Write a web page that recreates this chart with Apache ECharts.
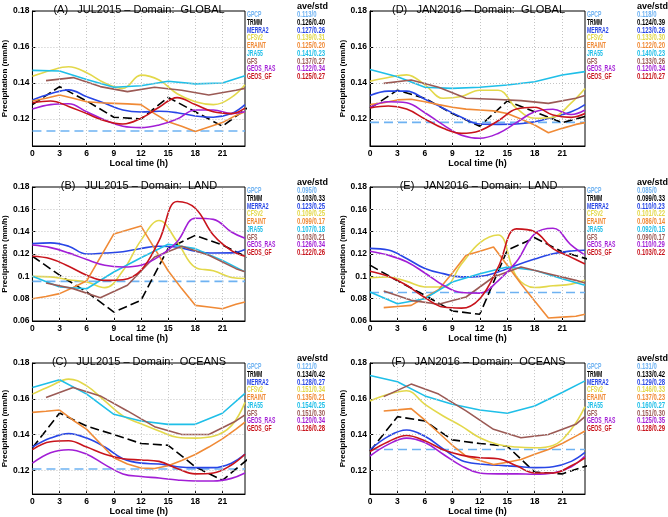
<!DOCTYPE html>
<html>
<head>
<meta charset="utf-8">
<script src="https://cdn.jsdelivr.net/npm/echarts@6/dist/echarts.min.js"></script>
<style>
html, body { margin: 0; padding: 0; background: #fff; }
#main { width: 668px; height: 517px; }
</style>
</head>
<body>
<div id="main"></div>
<script>
// panels: A B C (JUL2015) and D E F (JAN2016)
const panelTitles = [
  '(A)   JUL2015 \u2013 Domain:  GLOBAL',
  '(B)   JUL2015 \u2013 Domain:  LAND',
  '(C)   JUL2015 \u2013 Domain:  OCEANS',
  '(D)   JAN2016 \u2013 Domain:  GLOBAL',
  '(E)   JAN2016 \u2013 Domain:  LAND',
  '(F)   JAN2016 \u2013 Domain:  OCEANS'
];
const names = ['GPCP', 'TRMM', 'MERRA2', 'CFSv2', 'ERAINT', 'JRA55', 'GFS', 'GEOS_RAS', 'GEOS_GF'];

const xTicks = [0, 3, 6, 9, 12, 15, 18, 21];
const yTicks = [
  [0.12, 0.14, 0.16, 0.18],
  [0.06, 0.08, 0.1, 0.12, 0.14, 0.16, 0.18],
  [0.12, 0.14, 0.16, 0.18],
  [0.12, 0.14, 0.16, 0.18],
  [0.06, 0.08, 0.1, 0.12, 0.14, 0.16, 0.18],
  [0.12, 0.14, 0.16, 0.18]
];
const yMin = [0.105, 0.06, 0.1067, 0.105, 0.06, 0.1067];
const yMax = 0.18;

// local-time sample hours of each product
const hrsSmooth = [0, 2, 4, 6, 8, 10, 12, 14, 16, 18, 20, 22, 23.5];
const hrsTrmm = [0, 3, 6, 9, 12, 15, 18, 21, 24];
const hrsJra = [0, 3, 6, 9, 12, 15, 18, 21, 23.5];
const hrsGfs = [1.5, 4.5, 7.5, 10.5, 13.5, 16.5, 19.5, 22.5, 23.5];
const hrsEra = [0, 1.5, 3, 4.5, 6, 7.5, 9, 10.5, 12, 13.5, 15, 16.5, 18, 19.5, 21, 22.5, 23.5];

// values per panel (A..F), mm/h
const gpcp = [0.1133, 0.0955, 0.1207, 0.1181, 0.0855, 0.1316];
const trmm = [
  [0.128, 0.138, 0.130, 0.121, 0.120, 0.132, 0.124, 0.116, 0.127],
  [0.118, 0.101, 0.086, 0.068, 0.0785, 0.125, 0.1367, 0.128, 0.116],
  [0.1326, 0.152, 0.1447, 0.140, 0.135, 0.134, 0.122, 0.1144, 0.127],
  [0.126, 0.136, 0.1315, 0.123, 0.116, 0.130, 0.124, 0.118, 0.122],
  [0.110, 0.096, 0.083, 0.069, 0.066, 0.1233, 0.1346, 0.122, 0.115],
  [0.1307, 0.150, 0.1476, 0.137, 0.135, 0.1335, 0.119, 0.118, 0.123]
];
const merra2 = [
  [0.1306, 0.134, 0.1362, 0.1324, 0.1287, 0.125, 0.1239, 0.1243, 0.1235, 0.1217, 0.121, 0.123, 0.128],
  [0.1293, 0.130, 0.127, 0.120, 0.1209, 0.122, 0.125, 0.1269, 0.126, 0.1225, 0.1209, 0.121, 0.124],
  [0.133, 0.138, 0.1405, 0.138, 0.133, 0.1265, 0.124, 0.1235, 0.122, 0.1215, 0.1215, 0.124, 0.129],
  [0.133, 0.1355, 0.1355, 0.131, 0.126, 0.121, 0.1172, 0.117, 0.1172, 0.1185, 0.121, 0.124, 0.128],
  [0.125, 0.1235, 0.116, 0.107, 0.1024, 0.0995, 0.100, 0.1039, 0.110, 0.1155, 0.1203, 0.1227, 0.1233],
  [0.1315, 0.139, 0.1425, 0.139, 0.132, 0.1255, 0.1235, 0.1228, 0.1222, 0.1215, 0.122, 0.125, 0.130]
];
const cfsv2 = [
  [0.1437, 0.147, 0.149, 0.1457, 0.140, 0.137, 0.1444, 0.1417, 0.134, 0.1296, 0.128, 0.132, 0.139],
  [0.100, 0.0995, 0.097, 0.0949, 0.0899, 0.105, 0.1322, 0.150, 0.131, 0.108, 0.105, 0.099, 0.098],
  [0.1626, 0.1672, 0.171, 0.1672, 0.1588, 0.1504, 0.146, 0.142, 0.1385, 0.138, 0.139, 0.145, 0.158],
  [0.141, 0.1431, 0.1445, 0.139, 0.1315, 0.1325, 0.136, 0.136, 0.126, 0.1204, 0.121, 0.129, 0.137],
  [0.0988, 0.0994, 0.0955, 0.0905, 0.0904, 0.111, 0.130, 0.137, 0.100, 0.090, 0.0915, 0.093, 0.0964],
  [0.1588, 0.1625, 0.1645, 0.1569, 0.1504, 0.1447, 0.1382, 0.1344, 0.133, 0.1326, 0.1339, 0.143, 0.1556]
];
const eraint = [
  [0.130, 0.1315, 0.1333, 0.1315, 0.1296, 0.129, 0.1287, 0.1284, 0.128, 0.123, 0.1185, 0.116, 0.113, 0.1155, 0.118, 0.122, 0.124],
  [0.080, 0.082, 0.0845, 0.090, 0.096, 0.117, 0.138, 0.1415, 0.145, 0.125, 0.105, 0.089, 0.074, 0.0725, 0.071, 0.075, 0.077],
  [0.1524, 0.153, 0.1537, 0.148, 0.1429, 0.135, 0.127, 0.1235, 0.1213, 0.121, 0.1226, 0.1255, 0.1288, 0.133, 0.1376, 0.143, 0.147],
  [0.128, 0.129, 0.1306, 0.131, 0.1296, 0.128, 0.1265, 0.1255, 0.125, 0.1245, 0.1231, 0.120, 0.1167, 0.1124, 0.1148, 0.117, 0.118],
  [null, 0.072, 0.073, 0.074, 0.081, 0.088, 0.103, 0.1188, 0.1225, 0.1263, 0.110, 0.0934, 0.078, 0.0627, 0.0635, 0.0642, 0.066],
  [null, 0.1532, 0.1538, 0.1545, 0.148, 0.141, 0.134, 0.1279, 0.1255, 0.1232, 0.1245, 0.126, 0.129, 0.1316, 0.135, 0.1391, 0.142]
];
const jra55 = [
  [0.147, 0.1467, 0.142, 0.1376, 0.1385, 0.141, 0.1395, 0.140, 0.144],
  [0.100, 0.0904, 0.0889, 0.1039, 0.1167, 0.1287, 0.1248, 0.1143, 0.104],
  [0.1663, 0.1706, 0.1626, 0.1513, 0.1476, 0.1457, 0.1457, 0.1519, 0.163],
  [0.1475, 0.1435, 0.1376, 0.137, 0.1376, 0.1389, 0.1407, 0.1444, 0.1463],
  [0.086, 0.0755, 0.080, 0.0949, 0.1024, 0.1084, 0.1054, 0.0979, 0.092],
  [0.173, 0.1695, 0.1616, 0.1569, 0.1537, 0.1519, 0.156, 0.1635, 0.170]
];
const gfs = [
  [0.1413, 0.143, 0.138, 0.1352, 0.1376, 0.136, 0.1333, 0.136, 0.137],
  [0.094, 0.089, 0.0809, 0.092, 0.1173, 0.1269, 0.1188, 0.1069, 0.104],
  [0.1607, 0.1663, 0.1616, 0.1532, 0.1444, 0.140, 0.140, 0.1476, 0.151],
  [0.1398, 0.1417, 0.1376, 0.1315, 0.131, 0.1302, 0.1287, 0.1315, 0.133],
  [0.0869, 0.0785, 0.075, 0.0815, 0.0994, 0.1084, 0.1024, 0.0964, 0.094],
  [0.1612, 0.1682, 0.1626, 0.1532, 0.1429, 0.1382, 0.140, 0.1457, 0.150]
];
const geosRas = [
  [0.1255, 0.128, 0.1285, 0.124, 0.1194, 0.116, 0.1152, 0.1167, 0.120, 0.125, 0.125, 0.123, 0.124],
  [0.128, 0.1257, 0.121, 0.115, 0.1099, 0.1084, 0.110, 0.1179, 0.131, 0.152, 0.151, 0.1397, 0.134],
  [0.124, 0.1298, 0.1315, 0.129, 0.1232, 0.118, 0.1165, 0.1157, 0.1146, 0.114, 0.114, 0.1155, 0.1185],
  [0.1265, 0.1296, 0.129, 0.1235, 0.1167, 0.111, 0.1093, 0.112, 0.118, 0.124, 0.1254, 0.1225, 0.125],
  [0.1225, 0.119, 0.113, 0.103, 0.092, 0.0855, 0.085, 0.096, 0.113, 0.138, 0.143, 0.128, 0.119],
  [0.128, 0.1345, 0.138, 0.1355, 0.129, 0.1225, 0.1185, 0.118, 0.118, 0.1178, 0.1185, 0.122, 0.128]
];
const geosGf = [
  [0.129, 0.130, 0.127, 0.123, 0.119, 0.1172, 0.1204, 0.1265, 0.1319, 0.128, 0.124, 0.123, 0.126],
  [0.118, 0.1158, 0.109, 0.101, 0.0964, 0.097, 0.1054, 0.132, 0.167, 0.161, 0.137, 0.123, 0.118],
  [0.1316, 0.136, 0.1365, 0.133, 0.129, 0.1265, 0.1258, 0.125, 0.121, 0.118, 0.1185, 0.123, 0.129],
  [0.1262, 0.1272, 0.1255, 0.120, 0.1148, 0.112, 0.1135, 0.119, 0.1255, 0.1265, 0.1222, 0.1209, 0.123],
  [0.1045, 0.100, 0.092, 0.081, 0.0725, 0.0715, 0.080, 0.108, 0.1425, 0.140, 0.1248, 0.117, 0.111],
  [0.1305, 0.136, 0.1395, 0.1365, 0.1315, 0.1285, 0.127, 0.1265, 0.1225, 0.1185, 0.1185, 0.1225, 0.127]
];

// ave/std labels, order of names
const stats = [
  ['0.113/0', '0.126/0.40', '0.127/0.26', '0.139/0.31', '0.125/0.20', '0.141/0.23', '0.137/0.27', '0.122/0.34', '0.125/0.27'],
  ['0.095/0', '0.103/0.33', '0.123/0.25', '0.109/0.25', '0.099/0.17', '0.107/0.18', '0.103/0.21', '0.126/0.34', '0.122/0.26'],
  ['0.121/0', '0.134/0.42', '0.128/0.27', '0.151/0.34', '0.135/0.21', '0.154/0.25', '0.151/0.30', '0.120/0.34', '0.126/0.28'],
  ['0.118/0', '0.124/0.39', '0.123/0.26', '0.133/0.30', '0.122/0.20', '0.140/0.23', '0.133/0.26', '0.120/0.34', '0.121/0.27'],
  ['0.085/0', '0.099/0.33', '0.110/0.23', '0.101/0.22', '0.086/0.14', '0.092/0.15', '0.090/0.17', '0.110/0.29', '0.103/0.22'],
  ['0.131/0', '0.133/0.42', '0.129/0.28', '0.146/0.33', '0.137/0.23', '0.160/0.27', '0.151/0.30', '0.125/0.35', '0.128/0.29']
];

const colors = {
  GPCP: '#6eb2f2', TRMM: '#000000', MERRA2: '#2846e6', CFSv2: '#e3d84a', ERAINT: '#f08a36',
  JRA55: '#1fbfe8', GFS: '#9b5a55', GEOS_RAS: '#a21ed6', GEOS_GF: '#c8141c'
};

const boxes = [
  { left: 31, top: 11, width: 214, height: 135 },
  { left: 31, top: 187, width: 214, height: 134 },
  { left: 31, top: 363, width: 214, height: 132 },
  { left: 370, top: 11, width: 215, height: 135 },
  { left: 370, top: 187, width: 215, height: 134 },
  { left: 370, top: 363, width: 215, height: 132 }
];

const sans = "'Liberation Sans', Arial, sans-serif";

function pairs(hours, vals) {
  const out = [];
  hours.forEach((h, i) => { if (vals[i] != null) out.push([h, vals[i]]); });
  return out;
}

const grids = [], xAxes = [], yAxes = [], series = [], titles = [], texts = [];

boxes.forEach((b, p) => {
  grids.push({ left: b.left, top: b.top, width: b.width, height: b.height,
    show: true, borderColor: '#000', borderWidth: 1, backgroundColor: 'transparent' });
  xAxes.push({
    type: 'value', gridIndex: p, min: 0, max: 23.5,
    name: 'Local time (h)', nameLocation: 'middle', nameGap: 12,
    nameTextStyle: { fontSize: 9, color: '#000', fontFamily: sans, fontWeight: 'bold' },
    axisLine: { lineStyle: { color: '#000' } },
    axisTick: { inside: true, length: 3, customValues: xTicks, lineStyle: { color: '#000' } },
    axisLabel: { customValues: xTicks, fontSize: 8.5, margin: 3, color: '#000', fontFamily: sans, fontWeight: 'bold' },
    splitLine: { show: false }
  });
  yAxes.push({
    type: 'value', gridIndex: p, min: yMin[p], max: yMax,
    name: 'Precipitation (mm/h)', nameLocation: 'middle', nameGap: 21, nameRotate: 90,
    nameTextStyle: { fontSize: 8, color: '#000', fontFamily: sans, fontWeight: 'bold' },
    axisLine: { lineStyle: { color: '#000' } },
    axisTick: { inside: true, length: 3, customValues: yTicks[p], lineStyle: { color: '#000' } },
    axisLabel: { customValues: yTicks[p], fontSize: 8.5, margin: 3, color: '#000', fontFamily: sans, fontWeight: 'bold',
      formatter: v => String(+v.toFixed(2)) },
    splitLine: { show: false }
  });

  const grid = [];
  xTicks.slice(1).forEach(v => grid.push({ xAxis: v }));
  yTicks[p].filter(v => v > yMin[p] && v < yMax).forEach(v => grid.push({ yAxis: v }));

  const base = { type: 'line', xAxisIndex: p, yAxisIndex: p, showSymbol: false, symbol: 'none',
    animation: false, silent: true, clip: true };

  series.push(Object.assign({}, base, {
    name: 'GPCP', data: [[0, gpcp[p]], [23.5, gpcp[p]]],
    lineStyle: { color: colors.GPCP, width: 1.6, type: [9, 5] },
    markLine: { silent: true, symbol: ['none', 'none'], label: { show: false }, animation: false,
      lineStyle: { color: '#c4c4c4', width: 1, type: [1, 2] }, data: grid }
  }));
  series.push(Object.assign({}, base, { name: 'TRMM', data: pairs(hrsTrmm, trmm[p]),
    lineStyle: { color: colors.TRMM, width: 1.6, type: [9, 4] } }));
  series.push(Object.assign({}, base, { name: 'MERRA2', data: pairs(hrsSmooth, merra2[p]), smooth: 0.4,
    lineStyle: { color: colors.MERRA2, width: 1.6 } }));
  series.push(Object.assign({}, base, { name: 'CFSv2', data: pairs(hrsSmooth, cfsv2[p]), smooth: 0.4,
    lineStyle: { color: colors.CFSv2, width: 1.6 } }));
  series.push(Object.assign({}, base, { name: 'ERAINT', data: pairs(hrsEra, eraint[p]),
    lineStyle: { color: colors.ERAINT, width: 1.6 } }));
  series.push(Object.assign({}, base, { name: 'JRA55', data: pairs(hrsJra, jra55[p]),
    lineStyle: { color: colors.JRA55, width: 1.6 } }));
  series.push(Object.assign({}, base, { name: 'GFS', data: pairs(hrsGfs, gfs[p]),
    lineStyle: { color: colors.GFS, width: 1.6 } }));
  series.push(Object.assign({}, base, { name: 'GEOS_RAS', data: pairs(hrsSmooth, geosRas[p]), smooth: 0.4,
    lineStyle: { color: colors.GEOS_RAS, width: 1.6 } }));
  series.push(Object.assign({}, base, { name: 'GEOS_GF', data: pairs(hrsSmooth, geosGf[p]), smooth: 0.4,
    lineStyle: { color: colors.GEOS_GF, width: 1.6 } }));

  titles.push({
    text: panelTitles[p], left: b.left + b.width / 2 - 4, top: b.top - 12, textAlign: 'center',
    textStyle: { fontSize: 11, fontWeight: 'normal', color: '#000', fontFamily: sans }
  });

  // side legend: names, ave/std (narrowed text)
  const nx = b.left + b.width + 2;
  const vx = nx + 50;
  const y0 = b.top + 4;
  texts.push({ type: 'text', x: vx, y: y0 - 8.5, silent: true,
    style: { text: 'ave/std', fill: '#000', font: 'bold 9px ' + sans, verticalAlign: 'middle' } });
  names.forEach((n, i) => {
    texts.push({ type: 'text', x: nx, y: y0 + i * 7.7, scaleX: 0.6, silent: true,
      style: { text: n, fill: colors[n], font: 'bold 8.5px ' + sans, verticalAlign: 'middle' } });
    texts.push({ type: 'text', x: vx, y: y0 + i * 7.7, scaleX: 0.7, silent: true,
      style: { text: stats[p][i], fill: colors[n], font: 'bold 8.5px ' + sans, verticalAlign: 'middle' } });
  });
});

const chart = echarts.init(document.getElementById('main'));
chart.setOption({
  backgroundColor: '#fff',
  animation: false,
  title: titles,
  grid: grids,
  xAxis: xAxes,
  yAxis: yAxes,
  series: series,
  graphic: texts
});
</script>
</body>
</html>
